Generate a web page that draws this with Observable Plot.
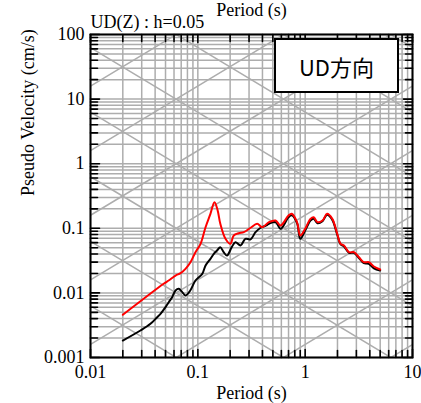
<!DOCTYPE html>
<html><head><meta charset="utf-8">
<script src="https://cdn.jsdelivr.net/npm/d3@7"></script>
<script src="https://cdn.jsdelivr.net/npm/@observablehq/plot@0.6"></script>
<style>
body{margin:0;background:#fff;}
#wrap{position:relative;width:421px;height:403px;}
#badge{position:absolute;left:274px;top:38px;width:121px;height:51px;border:2px solid #000;background:#fff;display:flex;align-items:center;justify-content:center;font-family:"Noto Sans CJK JP";font-size:22px;color:#000;}
</style></head><body><div id="wrap"></div>
<script>
// Red spectrum (period s, pseudo velocity cm/s)
const redT = [0.02,0.048,0.0535,0.062,0.069,0.0767,0.0854,0.0951,0.106,0.118,0.131,0.143,0.153,0.162,0.181,0.201,0.216,0.24,0.268,0.31,0.357,0.398,0.46,0.53,0.59,0.70,0.75,0.84,0.90,1.0,1.12,1.2,1.3,1.45,1.6,1.79,1.99,2.14,2.30,2.56,2.85,3.17,3.52,3.92,4.37,5.0];
const redV = [0.00458,0.01384,0.01556,0.01858,0.02018,0.0236,0.0299,0.0427,0.0575,0.104,0.1675,0.2535,0.189,0.1175,0.0687,0.0575,0.0774,0.0839,0.0871,0.102,0.1175,0.104,0.1245,0.132,0.1104,0.158,0.1675,0.1245,0.0774,0.0982,0.140,0.1486,0.1245,0.132,0.1675,0.140,0.0822,0.0575,0.0542,0.0427,0.0427,0.0357,0.0299,0.0299,0.0256,0.0230];
// Black spectrum
const blackT = [0.02,0.0292,0.0362,0.0418,0.0449,0.05,0.0536,0.0576,0.062,0.0664,0.071,0.077,0.085,0.095,0.11,0.118,0.131,0.141,0.151,0.162,0.174,0.187,0.207,0.224,0.25,0.277,0.31,0.345,0.385,0.43,0.46,0.53,0.59,0.70,0.75,0.84,0.90,1.0,1.12,1.2,1.3,1.45,1.6,1.79,1.99,2.14,2.30,2.56,2.85,3.17,3.52,3.92,4.37,5.0];
const blackV = [0.001832,0.00262,0.00332,0.00421,0.00474,0.00601,0.00718,0.00859,0.01089,0.01156,0.01047,0.00912,0.01089,0.01556,0.01972,0.02655,0.03365,0.0403,0.0453,0.0511,0.0427,0.0379,0.0511,0.061,0.0542,0.0687,0.0676,0.0871,0.102,0.1096,0.1175,0.1245,0.0982,0.1486,0.1585,0.120,0.0687,0.0925,0.132,0.141,0.120,0.129,0.162,0.135,0.0794,0.0562,0.0525,0.0417,0.0417,0.0347,0.0288,0.0282,0.024,0.0222];

const xTickLabels = [0.01, 0.1, 1, 10];
const yTickLabels = [0.001, 0.01, 0.1, 1, 10, 100];
const dispLevels = [1e-5, 1e-4, 1e-3, 1e-2, 1e-1, 1, 10, 100];      // cm
const accLevels = [1e-3, 1e-2, 1e-1, 1, 10, 100, 1000, 10000];     // cm/s^2
const titleText = "UD(Z) : h=0.05";
const xLabel = "Period (s)";
const yLabel = "Pseudo Velocity (cm/s)";
const badgeText = "UD方向";

const red = redT.map((t, i) => ({T: t, V: redV[i]}));
const black = blackT.map((t, i) => ({T: t, V: blackV[i]}));

function logGrid(decades) {
  const out = [];
  for (let i = 0; i < decades.length - 1; i++) for (let m = 1; m <= 9; m++) out.push(+(decades[i] * m).toPrecision(3));
  out.push(decades[decades.length - 1]);
  return out;
}
const xGrid = logGrid(xTickLabels);
const yGrid = logGrid(yTickLabels);
const xMajor = xTickLabels, yMajor = yTickLabels;
const xMinor = xGrid.filter(v => !xMajor.includes(v));
const yMinor = yGrid.filter(v => !yMajor.includes(v));

const Tmin = xTickLabels[0], Tmax = xTickLabels[xTickLabels.length - 1];
const diag = [];
dispLevels.forEach((D, k) => { diag.push({id: "d" + k, T: Tmin, V: 2 * Math.PI * D / Tmin}); diag.push({id: "d" + k, T: Tmax, V: 2 * Math.PI * D / Tmax}); });
accLevels.forEach((A, k) => { diag.push({id: "a" + k, T: Tmin, V: A * Tmin / (2 * Math.PI)}); diag.push({id: "a" + k, T: Tmax, V: A * Tmax / (2 * Math.PI)}); });

const tickShape = {draw(c, l) { c.moveTo(0, 0); c.lineTo(0, -l); }};
const tickMarks = [];
for (const [vals, len] of [[xMajor, 8], [xMinor, 7]]) {
  tickMarks.push(Plot.vector(vals, {x: d => d, frameAnchor: "bottom", rotate: 0, length: len, anchor: "start", shape: tickShape, stroke: "black", strokeWidth: 1.6}));
  tickMarks.push(Plot.vector(vals, {x: d => d, frameAnchor: "top", rotate: 180, length: len, anchor: "start", shape: tickShape, stroke: "black", strokeWidth: 1.6}));
}
for (const [vals, len] of [[yMajor, 9], [yMinor, 7]]) {
  tickMarks.push(Plot.vector(vals, {y: d => d, frameAnchor: "left", rotate: 90, length: len, anchor: "start", shape: tickShape, stroke: "black", strokeWidth: 1.6}));
  tickMarks.push(Plot.vector(vals, {y: d => d, frameAnchor: "right", rotate: -90, length: len, anchor: "start", shape: tickShape, stroke: "black", strokeWidth: 1.6}));
}

const gridColor = "#adadad";
const chart = Plot.plot({
  width: 421, height: 403,
  marginLeft: 90, marginRight: 9, marginTop: 34, marginBottom: 46,
  style: {fontFamily: "'Liberation Serif', 'Times New Roman', serif", fontSize: "18px", color: "#000", background: "#fff"},
  x: {type: "log", domain: [Tmin, Tmax]},
  y: {type: "log", domain: [yTickLabels[0], yTickLabels[yTickLabels.length - 1]]},
  marks: [
    Plot.ruleX(xGrid, {x: d => d, stroke: gridColor, strokeWidth: 1.5}),
    Plot.ruleY(yGrid, {y: d => d, stroke: gridColor, strokeWidth: 1.5}),
    Plot.line(diag, {x: "T", y: "V", z: "id", stroke: gridColor, strokeWidth: 1.5, clip: true}),
    Plot.line(black, {x: "T", y: "V", stroke: "#000", strokeWidth: 2, curve: "catmull-rom"}),
    Plot.line(red, {x: "T", y: "V", stroke: "#ff0000", strokeWidth: 2, curve: "catmull-rom"}),
    ...tickMarks,
    Plot.frame({stroke: "#000", strokeWidth: 2}),
    Plot.axisX({anchor: "bottom", ticks: xTickLabels, tickSize: 0, tickPadding: 8, tickFormat: d => String(d), label: null, fontSize: 18}),
    Plot.axisY({anchor: "left", ticks: yTickLabels, tickSize: 0, tickPadding: 6, tickFormat: d => String(d), label: null, fontSize: 18}),
    Plot.text([xLabel], {text: d => d, frameAnchor: "bottom", lineAnchor: "bottom", dy: 41, fontSize: 18}),
    Plot.text([xLabel], {text: d => d, frameAnchor: "top", lineAnchor: "bottom", dy: -19, fontSize: 18}),
    Plot.text([titleText], {text: d => d, frameAnchor: "top-left", textAnchor: "start", lineAnchor: "bottom", dy: -7, fontSize: 18}),
    Plot.text([yLabel], {text: d => d, frameAnchor: "left", rotate: -90, dx: -62, fontSize: 18})
  ]
});
const wrap = document.getElementById("wrap");
wrap.appendChild(chart);
const badge = document.createElement("div");
badge.id = "badge";
badge.textContent = badgeText;
wrap.appendChild(badge);
</script></body></html>
